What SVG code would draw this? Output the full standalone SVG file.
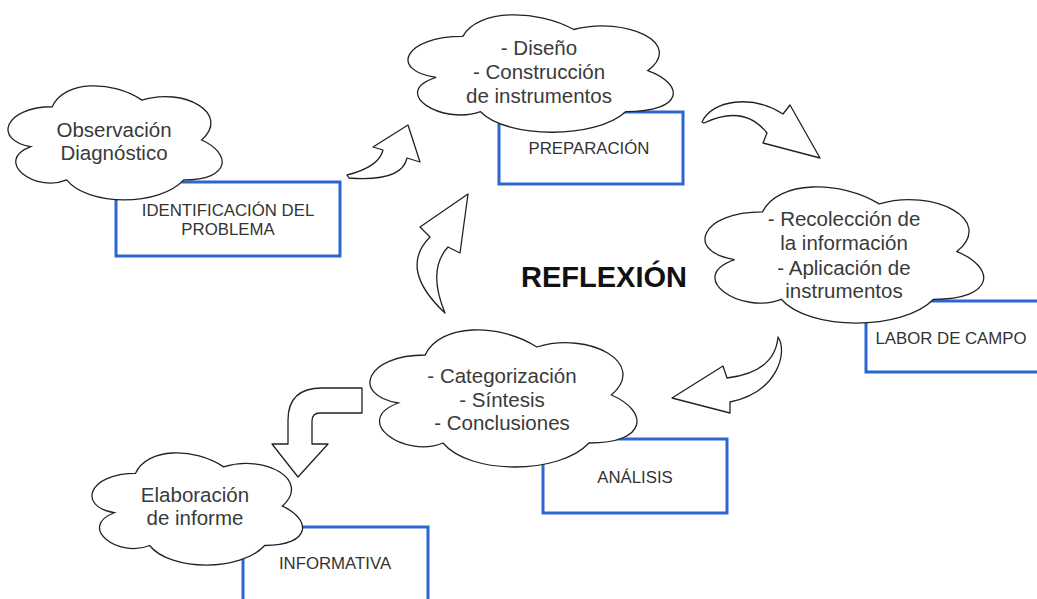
<svg xmlns="http://www.w3.org/2000/svg" width="1037" height="599" viewBox="0 0 1037 599">
<style>
.box{fill:#fff;stroke:#2a67cf;stroke-width:3}
.cloud{fill:#fff;stroke:#222;stroke-width:1.3;vector-effect:non-scaling-stroke}
.arr{fill:#fff;stroke:#222;stroke-width:1.3;stroke-linejoin:round}
.ct{font-family:"Liberation Sans",Arial,sans-serif;font-size:20.5px;fill:#3a3a3a;text-anchor:middle}
.bt{font-family:"Liberation Sans",Arial,sans-serif;font-size:16.8px;fill:#333;text-anchor:middle}
.title{font-family:"Liberation Sans",Arial,sans-serif;font-size:29px;font-weight:bold;fill:#111;text-anchor:middle}
</style>
<rect width="1037" height="599" fill="#fff"/>

<g id="connectors">
<path class="arr" d="M347,175 Q379,167 383,150 L373,147 L408,125 L420,162 L407,158 Q402,182 349,178 Z"/>
<path class="arr" d="M702,122 C712,100 752,94 783,114 L790,105 L820,158 L763,143 L767,133 Q744,104 704,123 Z"/>
<path class="arr" d="M778,337 C788,352 778,392 730,402 L730,413 L672,398 L723,366 L727,378 Q775,372 778,337 Z"/>
<path class="arr" d="M468,194 L420,227 L430,237 Q398,269 445,313 Q427,270 448,247 L460,253 Z"/>
<path class="arr" d="M362,388 L322,388 Q288,388 288,420 L288,444 L272,444 L298,477 L328,444 L312,444 L312,421 Q312,413 320,413 L362,413 Z"/>
</g>

<g id="n-identificacion">
<rect class="box" x="116" y="182" width="224" height="74"/>
<text class="bt" x="228" y="216">IDENTIFICACIÓN DEL</text>
<text class="bt" x="228" y="235">PROBLEMA</text>
</g>
<g id="n-preparacion">
<rect class="box" x="499" y="112" width="184" height="72"/>
<text class="bt" x="589" y="154">PREPARACIÓN</text>
</g>
<g id="n-labor">
<rect class="box" x="866" y="301" width="200" height="71"/>
<text class="bt" x="951" y="344">LABOR DE CAMPO</text>
</g>
<g id="n-analisis">
<rect class="box" x="543" y="439" width="184" height="74"/>
<text class="bt" x="635" y="483">ANÁLISIS</text>
</g>
<g id="n-informativa">
<rect class="box" x="243" y="527" width="185" height="100"/>
<text class="bt" x="335" y="569">INFORMATIVA</text>
</g>

<g id="c-observacion">
<path class="cloud" transform="translate(-7.5,73.5) scale(2.39,1.33)" d="M25,25 C5,25 0,50 16,55 C0,66 18,90 31,80 C40,100 70,100 80,80 C100,80 100,60 87.5,50 C100,30 80,10 62.5,20 C50,5 30,5 25,25 Z"/>
<text class="ct" x="114" y="137">Observación</text>
<text class="ct" x="114" y="160">Diagnóstico</text>
</g>
<g id="c-preparacion">
<path class="cloud" transform="translate(388.8,2.1) scale(2.96,1.37)" d="M25,25 C5,25 0,50 16,55 C0,66 18,90 31,80 C40,100 70,100 80,80 C100,80 100,60 87.5,50 C100,30 80,10 62.5,20 C50,5 30,5 25,25 Z"/>
<text class="ct" x="539" y="55">- Diseño</text>
<text class="ct" x="539" y="79">- Construcción</text>
<text class="ct" x="539" y="103">de instrumentos</text>
</g>
<g id="c-labor">
<path class="cloud" transform="translate(684.8,172.1) scale(3.11,1.59)" d="M25,25 C5,25 0,50 16,55 C0,66 18,90 31,80 C40,100 70,100 80,80 C100,80 100,60 87.5,50 C100,30 80,10 62.5,20 C50,5 30,5 25,25 Z"/>
<text class="ct" x="844" y="226">- Recolección de</text>
<text class="ct" x="844" y="250">la información</text>
<text class="ct" x="844" y="275">- Aplicación de</text>
<text class="ct" x="844" y="298">instrumentos</text>
</g>
<g id="c-analisis">
<path class="cloud" transform="translate(350.6,315) scale(2.98,1.6)" d="M25,25 C5,25 0,50 16,55 C0,66 18,90 31,80 C40,100 70,100 80,80 C100,80 100,60 87.5,50 C100,30 80,10 62.5,20 C50,5 30,5 25,25 Z"/>
<text class="ct" x="502" y="383">- Categorización</text>
<text class="ct" x="502" y="407">- Síntesis</text>
<text class="ct" x="502" y="430">- Conclusiones</text>
</g>
<g id="c-elaboracion">
<path class="cloud" transform="translate(76.7,440.7) scale(2.35,1.31)" d="M25,25 C5,25 0,50 16,55 C0,66 18,90 31,80 C40,100 70,100 80,80 C100,80 100,60 87.5,50 C100,30 80,10 62.5,20 C50,5 30,5 25,25 Z"/>
<text class="ct" x="195" y="502">Elaboración</text>
<text class="ct" x="195" y="525">de informe</text>
</g>

<text class="title" x="604" y="287">REFLEXIÓN</text>
</svg>
